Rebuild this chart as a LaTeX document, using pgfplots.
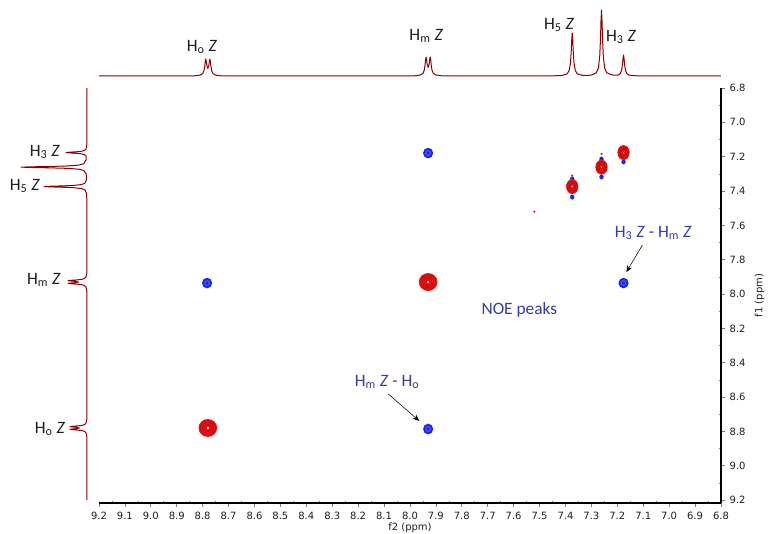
\documentclass[border=0pt]{standalone}
\usepackage{pgfplots}
\pgfplotsset{compat=1.18}
\usepackage{pgfplotstable}
\usepackage{fontspec}
\setmainfont{Carlito}
\newfontfamily\tickfont{DejaVu Sans}
\usetikzlibrary{arrows.meta}
\definecolor{spec}{RGB}{140,0,0}
\definecolor{pkred}{RGB}{232,22,22}
\definecolor{pkdark}{RGB}{165,0,0}
\definecolor{pkblue}{RGB}{25,40,235}
\definecolor{annblue}{RGB}{50,60,170}
\definecolor{lab}{RGB}{30,30,30}

\pgfdeclareplotmark{redpeak}{%
  \pgfsetfillcolor{pkred}%
  \pgfpathcircle{\pgfpointorigin}{\pgfplotmarksize}\pgfusepath{fill}%
  \pgfsetstrokecolor{pkdark}\pgfsetlinewidth{0.25pt}%
  \pgfpathcircle{\pgfpointorigin}{0.82\pgfplotmarksize}\pgfusepath{stroke}%
  \pgfpathcircle{\pgfpointorigin}{0.62\pgfplotmarksize}\pgfusepath{stroke}%
  \pgfpathcircle{\pgfpointorigin}{0.42\pgfplotmarksize}\pgfusepath{stroke}%
  \pgfsetfillcolor{white!80!pkred}%
  \pgfpathcircle{\pgfpointorigin}{0.2\pgfplotmarksize}\pgfusepath{fill,stroke}%
}
\pgfdeclareplotmark{bluepeak}{%
  \pgfsetfillcolor{pkblue}%
  \pgfpathcircle{\pgfpointorigin}{\pgfplotmarksize}\pgfusepath{fill}%
  \pgfsetstrokecolor{white!30!pkblue}\pgfsetlinewidth{0.16\pgfplotmarksize}%
  \pgfpathcircle{\pgfpointorigin}{0.45\pgfplotmarksize}\pgfusepath{stroke}%
}

% 1D proton spectrum (ppm, intensity in px above baseline)
\pgfplotstableread{
ppm I
6.800 0
7.096 0
7.136 0.3
7.156 1.0
7.164 2.6
7.169 6.1
7.172 11.7
7.174 17.5
7.176 21.0
7.178 17.5
7.180 11.7
7.183 6.1
7.188 2.6
7.196 1.0
7.218 0.9
7.241 3.2
7.249 8.1
7.254 19.3
7.257 36.9
7.259 55.1
7.261 66.0
7.263 55.1
7.265 36.9
7.268 19.3
7.273 8.1
7.281 3.2
7.301 0.8
7.320 0.6
7.334 0.5
7.354 2.1
7.362 5.3
7.367 12.6
7.370 24.0
7.372 35.9
7.374 43.0
7.376 35.9
7.378 24.0
7.381 12.6
7.386 5.3
7.394 2.1
7.414 0.5
7.454 0.1
7.840 0
7.880 0.25
7.900 1.0
7.910 2.6
7.915 5.8
7.918 10.7
7.920 15.8
7.922 19.0
7.924 16.4
7.926 12.1
7.930 8.5
7.934 12.1
7.936 16.4
7.938 19.0
7.940 15.8
7.942 10.7
7.945 5.8
7.950 2.6
7.960 1.0
7.980 0.25
8.020 0
8.690 0
8.730 0.2
8.750 0.9
8.760 2.3
8.765 5.2
8.768 9.6
8.770 14.1
8.772 17.0
8.774 14.7
8.776 10.8
8.780 7.6
8.784 10.8
8.786 14.7
8.788 17.0
8.790 14.1
8.792 9.6
8.795 5.2
8.800 2.3
8.810 0.9
8.830 0.2
8.870 0
9.200 0
}\spectrum

\begin{document}
\begin{tikzpicture}
\useasboundingbox (0,0) rectangle (579pt,399.75pt);

% ---------- main 2D NOESY axis ----------
\begin{axis}[
  at={(74.25pt,22.5pt)}, anchor=south west, scale only axis,
  width=466.5pt, height=311.25pt,
  xmin=6.8, xmax=9.2, ymin=6.8, ymax=9.217,
  x dir=reverse, y dir=reverse,
  axis x line*=bottom, axis y line*=right,
  axis line style={line width=0.8pt},
  xtick={6.8,6.9,7.0,7.1,7.2,7.3,7.4,7.5,7.6,7.7,7.8,7.9,8.0,8.1,8.2,8.3,8.4,8.5,8.6,8.7,8.8,8.9,9.0,9.1,9.2},
  ytick={6.8,7.0,7.2,7.4,7.6,7.8,8.0,8.2,8.4,8.6,8.8,9.0,9.2},
  minor x tick num=1, minor y tick num=1,
  tick align=outside, major tick length=3pt, minor tick length=1.6pt,
  major tick style={line width=0.6pt},
  minor tick style={line width=0.5pt},
  minor x tick style={yshift=1.6pt}, minor y tick style={xshift=-1.6pt},
  /pgf/number format/fixed, /pgf/number format/fixed zerofill,
  /pgf/number format/precision=1, /pgf/number format/assume math mode=true,
  tick label style={font=\tickfont\fontsize{7.5}{9}\selectfont, text=lab},
  label style={font=\tickfont\fontsize{7.5}{9}\selectfont, text=lab},
  xlabel={f2 (ppm)}, ylabel={f1 (ppm)},
  xlabel style={yshift=4.2pt},
  clip=false,
]
% small artefacts around diagonal peaks
\addplot[only marks, mark=*, mark size=1.4pt, pkblue, mark options={yscale=1.2}] coordinates {
  (7.374,7.330) (7.374,7.435) (7.261,7.214) (7.261,7.318) (7.176,7.230)};
\addplot[only marks, mark=*, mark size=0.6pt, pkred] coordinates {
  (7.374,7.310) (7.261,7.184) (7.520,7.520)};
% diagonal peaks
\addplot[only marks, mark=redpeak, mark size=7pt, mark options={yscale=0.96}] coordinates {
  (8.780,8.780) (7.930,7.930)};
\addplot[only marks, mark=redpeak, mark size=4.6pt, mark options={yscale=1.22}] coordinates {
  (7.374,7.374) (7.261,7.261) (7.176,7.176)};
% NOE cross peaks
\addplot[only marks, mark=bluepeak, mark size=3.8pt, mark options={yscale=1.05}] coordinates {
  (8.783,7.936) (7.930,7.179) (7.930,8.786) (7.176,7.936)};
% annotations
\node[font=\fontsize{13}{15}\selectfont, text=annblue] at (axis cs:7.578,8.093) {NOE peaks};
\node[font=\fontsize{13}{15}\selectfont, text=annblue] at (axis cs:7.061,7.645)
  {H\textsubscript{3} \textit{Z} - H\textsubscript{m} \textit{Z}};
\node[font=\fontsize{13}{15}\selectfont, text=annblue] at (axis cs:8.088,8.512)
  {H\textsubscript{m} \textit{Z} - H\textsubscript{o}};
\draw[line width=0.4pt, -{Stealth[length=5pt,width=4pt]}] (axis cs:7.103,7.714) -- (axis cs:7.165,7.872);
\draw[line width=0.4pt, -{Stealth[length=5pt,width=4pt]}] (axis cs:8.084,8.582) -- (axis cs:7.964,8.739);
\end{axis}

% ---------- top 1D spectrum ----------
\begin{axis}[
  at={(74.25pt,342.75pt)}, anchor=south west, scale only axis,
  width=466.5pt, height=57pt,
  xmin=6.8, xmax=9.2, x dir=reverse, ymin=0, ymax=76,
  axis lines=none, clip=false,
]
\addplot[spec, line width=0.75pt, line join=round] table[x=ppm, y=I] {\spectrum};
\node[font=\fontsize{13}{15}\selectfont, text=lab] at (axis cs:8.802,29) {H\textsubscript{o} \textit{Z}};
\node[font=\fontsize{13}{15}\selectfont, text=lab] at (axis cs:7.937,40) {H\textsubscript{m} \textit{Z}};
\node[font=\fontsize{13}{15}\selectfont, text=lab] at (axis cs:7.424,51) {H\textsubscript{5} \textit{Z}};
\node[font=\fontsize{13}{15}\selectfont, text=lab] at (axis cs:7.185,39) {H\textsubscript{3} \textit{Z}};
\end{axis}

% ---------- left 1D spectrum ----------
\begin{axis}[
  at={(0pt,22.5pt)}, anchor=south west, scale only axis,
  width=65.25pt, height=311.25pt,
  xmin=0, xmax=87, x dir=reverse, ymin=6.8, ymax=9.217, y dir=reverse,
  axis lines=none, clip=false,
]
\addplot[spec, line width=0.75pt, line join=round] table[x=I, y=ppm] {\spectrum};
\node[font=\fontsize{13}{15}\selectfont, text=lab] at (axis cs:42,7.173) {H\textsubscript{3} \textit{Z}};
\node[font=\fontsize{13}{15}\selectfont, text=lab] at (axis cs:62,7.371) {H\textsubscript{5} \textit{Z}};
\node[font=\fontsize{13}{15}\selectfont, text=lab] at (axis cs:43,7.918) {H\textsubscript{m} \textit{Z}};
\node[font=\fontsize{13}{15}\selectfont, text=lab] at (axis cs:37,8.786) {H\textsubscript{o} \textit{Z}};
\end{axis}
\end{tikzpicture}
\end{document}
